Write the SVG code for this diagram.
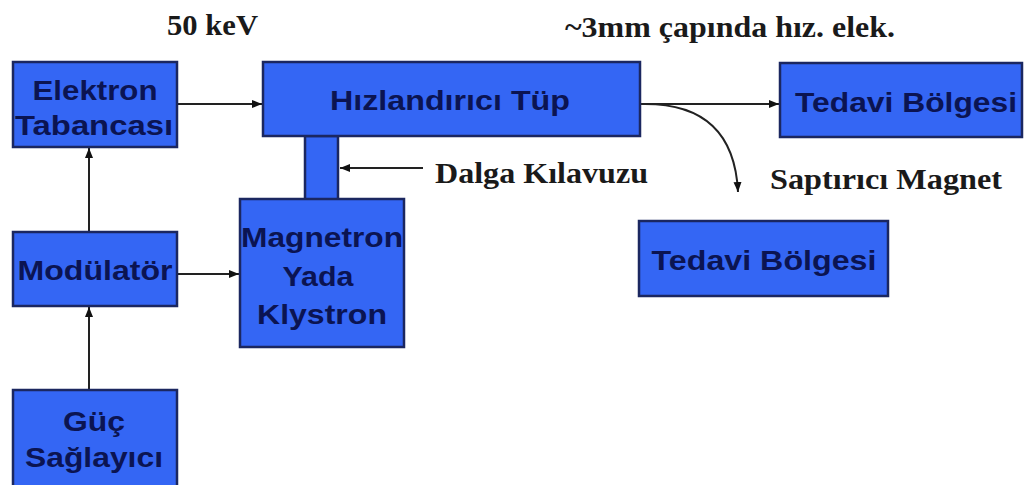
<svg xmlns="http://www.w3.org/2000/svg" width="1026" height="485" viewBox="0 0 1026 485">
<defs>
<style>
.box{fill:#3466f4;stroke:#1b2760;stroke-width:2.5}
.bt{font-family:"Liberation Sans",Arial,sans-serif;font-weight:bold;font-size:28px;fill:#0b1452;text-anchor:middle}
.st{font-family:"Liberation Serif","Times New Roman",serif;font-weight:bold;font-size:29px;fill:#1a1a1a}
.ln{fill:none;stroke:#222;stroke-width:2}
</style>
<marker id="ah" viewBox="0 0 10 8" refX="10" refY="4" markerWidth="10" markerHeight="9" markerUnits="userSpaceOnUse" orient="auto">
<path d="M0,0 L10,4 L0,8 z" fill="#111"/>
</marker>
</defs>
<rect width="1026" height="485" fill="#fff"/>

<g id="connectors">
<line class="ln" x1="177" y1="104" x2="262" y2="104" marker-end="url(#ah)"/>
<line class="ln" x1="640" y1="104" x2="779" y2="104" marker-end="url(#ah)"/>
<path class="ln" d="M645,104 C700,104 735,130 738,192" marker-end="url(#ah)"/>
<line class="ln" x1="89" y1="232" x2="89" y2="148" marker-end="url(#ah)"/>
<line class="ln" x1="89" y1="390" x2="89" y2="307" marker-end="url(#ah)"/>
<line class="ln" x1="177" y1="274" x2="239" y2="274" marker-end="url(#ah)"/>
<line class="ln" x1="423" y1="168" x2="340" y2="168" marker-end="url(#ah)"/>
</g>

<g id="waveguide">
<rect class="box" x="305" y="136" width="33" height="64"/>
</g>

<g id="elektron">
<rect class="box" x="13" y="62" width="164" height="85"/>
<text class="bt" x="95" y="100" textLength="125" lengthAdjust="spacingAndGlyphs">Elektron</text>
<text class="bt" x="94" y="135" textLength="158" lengthAdjust="spacingAndGlyphs">Tabancası</text>
</g>

<g id="hizlandirici">
<rect class="box" x="263" y="62" width="377" height="74"/>
<text class="bt" x="450" y="110" textLength="240" lengthAdjust="spacingAndGlyphs">Hızlandırıcı Tüp</text>
</g>

<g id="tedavi1">
<rect class="box" x="780" y="63" width="242" height="74"/>
<text class="bt" x="906" y="112" textLength="222" lengthAdjust="spacingAndGlyphs">Tedavi Bölgesi</text>
</g>

<g id="tedavi2">
<rect class="box" x="639" y="221" width="249" height="75"/>
<text class="bt" x="764" y="270" textLength="225" lengthAdjust="spacingAndGlyphs">Tedavi Bölgesi</text>
</g>

<g id="magnetron">
<rect class="box" x="240" y="199" width="164" height="148"/>
<text class="bt" x="322" y="247" textLength="162" lengthAdjust="spacingAndGlyphs">Magnetron</text>
<text class="bt" x="318" y="286" textLength="71" lengthAdjust="spacingAndGlyphs">Yada</text>
<text class="bt" x="322" y="324" textLength="130" lengthAdjust="spacingAndGlyphs">Klystron</text>
</g>

<g id="modulator">
<rect class="box" x="13" y="232" width="164" height="74"/>
<text class="bt" x="95" y="280" textLength="155" lengthAdjust="spacingAndGlyphs">Modülatör</text>
</g>

<g id="guc">
<rect class="box" x="13" y="390" width="164" height="100"/>
<text class="bt" x="94" y="431" textLength="62" lengthAdjust="spacingAndGlyphs">Güç</text>
<text class="bt" x="94" y="467" textLength="138" lengthAdjust="spacingAndGlyphs">Sağlayıcı</text>
</g>

<g id="labels">
<text class="st" x="167" y="35" textLength="91" lengthAdjust="spacingAndGlyphs">50 keV</text>
<text class="st" x="565" y="37" textLength="330" lengthAdjust="spacingAndGlyphs">~3mm çapında hız. elek.</text>
<text class="st" x="435" y="183" textLength="213" lengthAdjust="spacingAndGlyphs">Dalga Kılavuzu</text>
<text class="st" x="770" y="189" textLength="232" lengthAdjust="spacingAndGlyphs">Saptırıcı Magnet</text>
</g>
</svg>
